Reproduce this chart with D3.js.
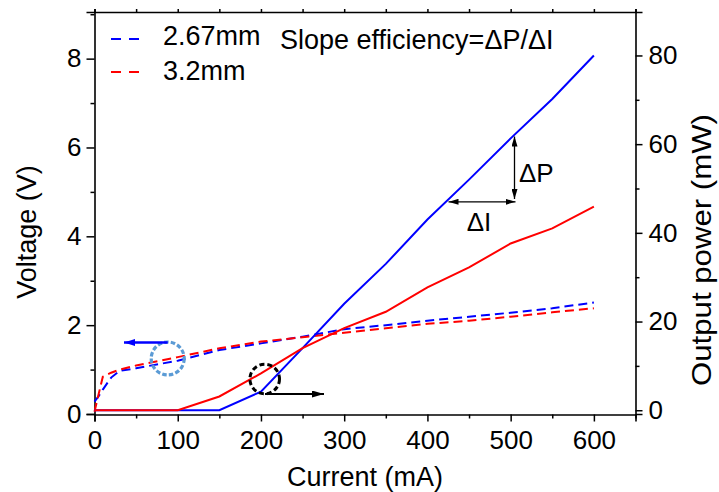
<!DOCTYPE html>
<html><head><meta charset="utf-8">
<script src="https://cdn.jsdelivr.net/npm/d3@7"></script>
<style>
html,body{margin:0;padding:0;background:#fff;}
svg text{font-family:"Liberation Sans",Arial,Helvetica,sans-serif;fill:#000;}
</style></head>
<body><svg id="c" width="719" height="492"></svg>
<script>
// ---- data ----
const currentP = [0,50,100,150,200,250,300,350,400,450,500,550,600];
const power267 = [0,0,0,0,4.2,14,24,33,43,52,61.3,70.2,80];
const power32  = [0,0,0,3.1,8.3,14,18.5,22.2,27.7,32.2,37.6,41,45.9];
const currentV = [0,5,10,20,30,50,100,150,200,250,300,350,400,450,500,550,600];
const volt267  = [0.28,0.4,0.55,0.82,0.97,1.03,1.2,1.44,1.59,1.74,1.91,2.0,2.1,2.19,2.28,2.38,2.51];
const volt32   = [0.05,0.45,0.84,0.93,1.0,1.09,1.28,1.48,1.63,1.73,1.83,1.93,2.03,2.1,2.19,2.29,2.38];
const xTicks = [0,100,200,300,400,500,600];
const vTicks = [0,2,4,6,8];
const pTicks = [0,20,40,60,80];
const legendLabels = ["2.67mm","3.2mm"];
const colors = ["#0000ff","#ff0000"];

const svg = d3.select("#c");
const L=94.5, R=635.5, T=12, B=414.5;
const x  = d3.scaleLinear().domain([0,650]).range([L,R]);
const yV = d3.scaleLinear().domain([0,9.05]).range([414,T]);
const yP = d3.scaleLinear().domain([-0.85,89.8]).range([414,T]);

const fs = 26, ft = 27;
// axes
const axB = d3.axisBottom(x).tickValues(xTicks).tickSize(7).tickPadding(9).tickFormat(d3.format("d"));
const axBm = d3.axisBottom(x).tickValues(d3.range(50,651,100)).tickSize(4).tickFormat("");
const axT = d3.axisTop(x).tickValues(d3.range(0,651,50)).tickSize(3).tickFormat("");
const axL = d3.axisLeft(yV).tickValues(vTicks).tickSize(8).tickPadding(5);
const axLm = d3.axisLeft(yV).tickValues([1,3,5,7,9]).tickSize(4).tickFormat("");
const axR = d3.axisRight(yP).tickValues(pTicks).tickSize(7).tickPadding(6);
const axRm = d3.axisRight(yP).tickValues([10,30,50,70]).tickSize(4).tickFormat("");

function style(g){
  g.select(".domain").attr("stroke","#000").attr("stroke-width",1.6);
  g.selectAll(".tick line").attr("stroke","#000").attr("stroke-width",1.5);
  g.selectAll(".tick text").style("font-size",fs+"px").attr("fill","#000");
}
svg.append("g").attr("transform",`translate(0,${B})`).call(axB).call(style);
svg.append("g").attr("transform",`translate(0,${B})`).call(axBm).call(style).select(".domain").remove();
svg.append("g").attr("transform",`translate(0,${T})`).call(axT).call(style);
svg.append("g").attr("transform",`translate(${L},0)`).call(axL).call(style);
svg.append("g").attr("transform",`translate(${L},0)`).call(axLm).call(style).select(".domain").remove();
svg.append("g").attr("transform",`translate(${R},0)`).call(axR).call(style);
svg.append("g").attr("transform",`translate(${R},0)`).call(axRm).call(style).select(".domain").remove();

// axis titles
svg.append("text").attr("x",365).attr("y",486).attr("text-anchor","middle").style("font-size",ft+"px").text("Current (mA)");
svg.append("text").attr("transform","translate(36,232) rotate(-90)").attr("text-anchor","middle").style("font-size",ft+"px").text("Voltage (V)");
svg.append("text").attr("transform","translate(711,250) rotate(-90)").attr("text-anchor","middle")
  .attr("textLength",272).attr("lengthAdjust","spacingAndGlyphs").style("font-size","28px").text("Output power (mW)");

// lines
const lineP = d3.line().x((d,i)=>x(currentP[i])).y(d=>yP(d));
const lineV = d3.line().x((d,i)=>x(currentV[i])).y(d=>yV(d));
const plot = svg.append("g");
[volt267, volt32].forEach((s,k)=>{
  plot.append("path").attr("d",lineV(s)).attr("fill","none").attr("stroke",colors[k]).attr("stroke-width",2).attr("stroke-dasharray","9,5");
});
[power267, power32].forEach((s,k)=>{
  plot.append("path").attr("d",lineP(s)).attr("fill","none").attr("stroke",colors[k]).attr("stroke-width",2);
});

// legend
legendLabels.forEach((t,k)=>{
  const yy = [39,72][k];
  svg.append("line").attr("x1",111).attr("x2",141).attr("y1",yy).attr("y2",yy)
     .attr("stroke",colors[k]).attr("stroke-width",2).attr("stroke-dasharray","10,8");
  svg.append("text").attr("x",163).attr("y",[45,80][k]).style("font-size",ft+"px").text(t);
});
svg.append("text").attr("x",280).attr("y",49).style("font-size",ft+"px").text("Slope efficiency=\u0394P/\u0394I");

// arrow markers
const defs = svg.append("defs");
function marker(id,color,w,h){
  defs.append("marker").attr("id",id).attr("viewBox",`0 0 ${w} ${h}`).attr("refX",w).attr("refY",h/2)
    .attr("markerWidth",w).attr("markerHeight",h).attr("markerUnits","userSpaceOnUse").attr("orient","auto-start-reverse")
    .append("path").attr("d",`M0,0L${w},${h/2}L0,${h}Z`).attr("fill",color);
}
marker("mb","#0000ff",11,7);
marker("mk","#000",12,7);
marker("ms","#000",10,6);

// annotation circles + arrows
svg.append("circle").attr("cx",167.7).attr("cy",358.5).attr("r",16.5).attr("fill","none")
  .attr("stroke","#5b9bd5").attr("stroke-width",3.2).attr("stroke-dasharray","4.5,2.2");
svg.append("line").attr("x1",167.7).attr("y1",342.5).attr("x2",124).attr("y2",342.5)
  .attr("stroke","#0000ff").attr("stroke-width",2.4).attr("marker-end","url(#mb)");
svg.append("circle").attr("cx",264.7).attr("cy",379).attr("r",14.8).attr("fill","none")
  .attr("stroke","#000").attr("stroke-width",3).attr("stroke-dasharray","5,3");
svg.append("line").attr("x1",265).attr("y1",394).attr("x2",324).attr("y2",394)
  .attr("stroke","#000").attr("stroke-width",2.2).attr("marker-end","url(#mk)");

// delta arrows
svg.append("line").attr("x1",514.5).attr("y1",136.5).attr("x2",514.5).attr("y2",199)
  .attr("stroke","#000").attr("stroke-width",1.3).attr("marker-start","url(#ms)").attr("marker-end","url(#ms)");
svg.append("line").attr("x1",448.5).attr("y1",201.8).attr("x2",515.5).attr("y2",201.8)
  .attr("stroke","#000").attr("stroke-width",1.3).attr("marker-start","url(#ms)").attr("marker-end","url(#ms)");
svg.append("text").attr("x",519).attr("y",181.5).style("font-size",fs+"px").text("\u0394P");
svg.append("text").attr("x",479).attr("y",230.5).attr("text-anchor","middle").style("font-size",fs+"px").text("\u0394I");
</script></body></html>
